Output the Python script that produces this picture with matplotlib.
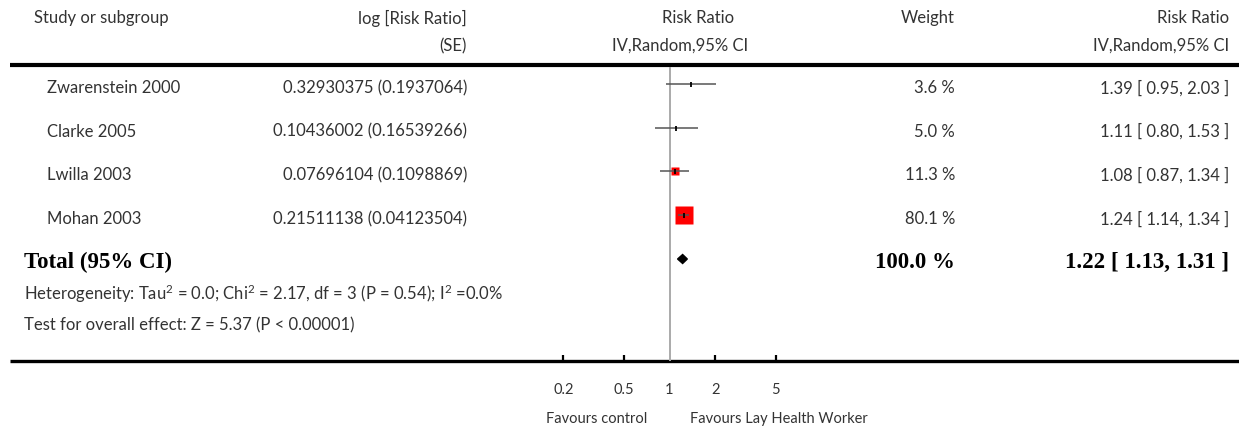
import numpy as np
import matplotlib
matplotlib.use("Agg")
import matplotlib.pyplot as plt
from matplotlib.patches import Polygon

plt.rcParams['font.family'] = ['Lato', 'DejaVu Sans']
plt.rcParams['mathtext.fontset'] = 'custom'
plt.rcParams['mathtext.rm'] = 'Lato'
plt.rcParams['mathtext.it'] = 'Lato'

# data
studies = ['Zwarenstein 2000', 'Clarke 2005', 'Lwilla 2003', 'Mohan 2003']
log_rr = [0.32930375, 0.10436002, 0.07696104, 0.21511138]
log_se = [0.1937064, 0.16539266, 0.1098869, 0.04123504]
rr = [1.39, 1.11, 1.08, 1.24]
rr_lo = [0.95, 0.80, 0.87, 1.14]
rr_hi = [2.03, 1.53, 1.34, 1.34]
weights = [3.6, 5.0, 11.3, 80.1]

total_rr, total_lo, total_hi, total_w = 1.22, 1.13, 1.31, 100.0
heterogeneity = r'Heterogeneity: Tau$^\mathrm{2}$ = 0.0; Chi$^\mathrm{2}$ = 2.17, df = 3 (P = 0.54); I$^\mathrm{2}$ =0.0%'
overall = 'Test for overall effect: Z = 5.37 (P < 0.00001)'
ticks = [0.2, 0.5, 1, 2, 5]
tick_labels = ['0.2', '0.5', '1', '2', '5']

W, H = 1239, 429
fig = plt.figure(figsize=(W / 100, H / 100), dpi=100)

# background axes in pixel coordinates for the table text
bg = fig.add_axes([0, 0, 1, 1])
bg.set_xlim(0, W)
bg.set_ylim(H, 0)
bg.axis('off')

txt = '#333333'
fs = 12
fs_small = 10.5
fs_bold = 16.5

# layout
row_y = [84 + 43.7 * i for i in range(len(studies))]
total_y = 259
x_px0, x_px1, one_px, dec_px = 540, 800, 669.5, 152.0
top_px, bot_px = 65, 361

# header
bg.text(34, 18, 'Study or subgroup', ha='left', va='center', fontsize=fs, color=txt)
bg.text(467, 18, 'log [Risk Ratio]', ha='right', va='center', fontsize=fs, color=txt)
bg.text(467, 46, '(SE)', ha='right', va='center', fontsize=fs, color=txt)
bg.text(698, 18, 'Risk Ratio', ha='center', va='center', fontsize=fs, color=txt)
bg.text(680, 46, 'IV,Random,95% CI', ha='center', va='center', fontsize=fs, color=txt)
bg.text(955, 18, 'Weight', ha='right', va='center', fontsize=fs, color=txt)
bg.text(1229, 18, 'Risk Ratio', ha='right', va='center', fontsize=fs, color=txt)
bg.text(1229, 46, 'IV,Random,95% CI', ha='right', va='center', fontsize=fs, color=txt)

bg.plot([10, W], [top_px, top_px], color='black', lw=3, solid_capstyle='butt')
bg.plot([10, W], [bot_px, bot_px], color='black', lw=2.4, solid_capstyle='butt')

# rows
for i, name in enumerate(studies):
    y = row_y[i] + 4
    bg.text(47, y, name, ha='left', va='center', fontsize=fs, color=txt)
    bg.text(467, y, '%s (%s)' % (log_rr[i], log_se[i]), ha='right', va='center', fontsize=fs, color=txt)
    bg.text(955, y, '%.1f %%' % weights[i], ha='right', va='center', fontsize=fs, color=txt)
    bg.text(1229, y, '%.2f [ %.2f, %.2f ]' % (rr[i], rr_lo[i], rr_hi[i]),
            ha='right', va='center', fontsize=fs, color=txt)

# total
bold = dict(va='center', fontsize=fs_bold, family='Liberation Serif', weight='bold', color='black')
bg.text(24, total_y + 3, 'Total (95% CI)', ha='left', **bold)
bg.text(955, total_y + 3, '%.1f %%' % total_w, ha='right', **bold)
bg.text(1229, total_y + 3, '%.2f [ %.2f, %.2f ]' % (total_rr, total_lo, total_hi), ha='right', **bold)
bg.text(24, 294, heterogeneity, ha='left', va='center', fontsize=fs, color=txt)
bg.text(24, 325, overall, ha='left', va='center', fontsize=fs, color=txt)

bg.text(597, 419, 'Favours control', ha='center', va='center', fontsize=fs_small, color=txt)
bg.text(779, 419, 'Favours Lay Health Worker', ha='center', va='center', fontsize=fs_small, color=txt)

# forest axes (log scale)
ax = fig.add_axes([x_px0 / W, (H - bot_px) / H, (x_px1 - x_px0) / W, (bot_px - top_px) / H])
ax.patch.set_alpha(0)
ax.set_xscale('log')
ax.set_xlim(10 ** ((x_px0 - one_px) / dec_px), 10 ** ((x_px1 - one_px) / dec_px))
ax.set_ylim(bot_px, top_px)
for s in ax.spines.values():
    s.set_visible(False)
ax.set_yticks([])
ax.set_xticks(ticks)
ax.set_xticklabels(tick_labels)
ax.xaxis.set_minor_locator(matplotlib.ticker.NullLocator())
ax.tick_params(axis='x', direction='in', length=4, width=1.6, pad=16, labelsize=fs_small,
               labelcolor=txt, color='black')
ax.xaxis.get_major_ticks()[2].tick1line.set_visible(False)

ax.axvline(1, ymin=0, ymax=(bot_px - 68) / (bot_px - top_px), color='#aaaaaa', lw=1.4, zorder=1)

side = 2.12 * np.sqrt(weights)
side = np.where(side < 5, 0, side)
for i in range(len(studies)):
    y = row_y[i]
    if side[i] > 0:
        ax.plot(rr[i], y, marker='s', ms=side[i] * 0.72, color='red', mec='none', ls='none', zorder=2)
    ax.plot([rr_lo[i], rr_hi[i]], [y, y], color='#555555', lw=1.1, zorder=3, solid_capstyle='butt')
    ax.plot(rr[i], y, marker='|', ms=3.6, mew=1.3, color='black', ls='none', zorder=4)

diamond = Polygon([[total_lo, total_y], [total_rr, total_y - 4.5], [total_hi, total_y],
                   [total_rr, total_y + 4.5]], closed=True, color='black', zorder=4)
ax.add_patch(diamond)

fig.savefig('out.png', dpi=100)
